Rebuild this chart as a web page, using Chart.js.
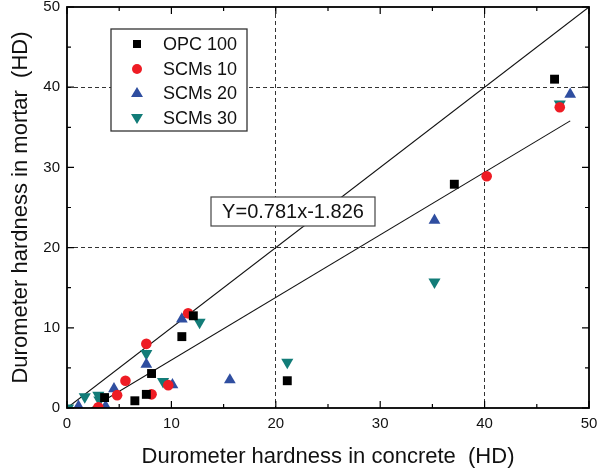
<!DOCTYPE html>
<html lang="en">
<head>
    <meta charset="UTF-8">
    <title>Durometer hardness: concrete vs mortar</title>
    <script src="https://cdn.jsdelivr.net/npm/chart.js"></script>
    <style>
        body { margin: 0; padding: 0; background: #fff; }
        canvas { display: block; }
    </style>
</head>
<body>
    <canvas id="hardChart" width="607" height="473"></canvas>

    <script>
        // data (x = concrete HD, y = mortar HD)
        const opcX  = [3.6, 6.5, 7.6, 8.1, 11.0, 12.1, 21.1, 37.1, 46.7];
        const opcY  = [1.3, 0.9, 1.7, 4.3, 8.9, 11.5, 3.4, 27.9, 41.0];
        const scm10X = [3.0, 4.8, 5.6, 7.6, 8.1, 9.7, 11.6, 40.2, 47.2];
        const scm10Y = [0.1, 1.6, 3.4, 8.0, 1.7, 2.85, 11.8, 28.9, 37.5];
        const scm20X = [1.1, 3.7, 4.5, 7.6, 10.1, 11.0, 15.6, 35.2, 48.2];
        const scm20Y = [0.2, 0.2, 2.4, 5.45, 2.9, 11.1, 3.5, 23.4, 39.1];
        const scm30X = [0.1, 1.7, 3.0, 3.1, 7.6, 9.2, 12.7, 21.1, 35.2, 47.2];
        const scm30Y = [0.0, 1.4, 1.6, 1.0, 6.8, 3.3, 10.7, 5.7, 15.7, 37.9];

        // 1:1 line and fitted line end points
        const oneToOneX = [0, 50];
        const oneToOneY = [0, 50];
        const fitX = [2.34, 48.2];
        const fitY = [0, 35.8];

        const axisTicks = [0, 10, 20, 30, 40, 50];
        const fitLabel = 'Y=0.781x-1.826';

        const pts = (xs, ys) => xs.map((x, i) => ({ x: x, y: ys[i] }));

        // frame, inward ticks, legend box and equation box
        const decorPlugin = {
            id: 'decor',
            afterDatasetsDraw(chart) {
                const ctx = chart.ctx;
                const a = chart.chartArea;
                const xs = chart.scales.x, ys = chart.scales.y;
                ctx.save();

                // inward ticks on all four sides
                ctx.strokeStyle = '#000';
                ctx.lineWidth = 1.2;
                for (let v = 0; v <= 50; v += 5) {
                    const len = v % 10 === 0 ? 7 : 4;
                    const px = xs.getPixelForValue(v);
                    const py = ys.getPixelForValue(v);
                    ctx.beginPath();
                    ctx.moveTo(px, a.bottom); ctx.lineTo(px, a.bottom - len);
                    ctx.moveTo(px, a.top); ctx.lineTo(px, a.top + len);
                    ctx.moveTo(a.left, py); ctx.lineTo(a.left + len, py);
                    ctx.moveTo(a.right, py); ctx.lineTo(a.right - len, py);
                    ctx.stroke();
                }

                // frame
                ctx.lineWidth = 1.8;
                ctx.strokeRect(a.left, a.top, a.right - a.left, a.bottom - a.top);

                // equation box
                ctx.font = '20px "Liberation Sans", Arial, sans-serif';
                ctx.fillStyle = '#fff';
                ctx.fillRect(211, 197, 164, 29);
                ctx.strokeStyle = '#444';
                ctx.lineWidth = 1.2;
                ctx.strokeRect(211, 197, 164, 29);
                ctx.fillStyle = '#111';
                ctx.textBaseline = 'middle';
                ctx.textAlign = 'center';
                ctx.fillText(fitLabel, 293, 212);

                // legend box
                ctx.fillStyle = '#fff';
                ctx.fillRect(111, 29, 136, 102);
                ctx.strokeStyle = '#333';
                ctx.lineWidth = 1.3;
                ctx.strokeRect(111, 29, 136, 102);
                ctx.textAlign = 'left';
                ctx.font = '18px "Liberation Sans", Arial, sans-serif';
                const rowY = [44, 69, 93, 118];
                chart.data.datasets.slice(0, 4).forEach((ds, i) => {
                    const cx = 137, cy = rowY[i];
                    ctx.fillStyle = ds.backgroundColor;
                    ctx.beginPath();
                    if (ds.pointStyle === 'rect') {
                        ctx.rect(cx - 4, cy - 4, 8, 8);
                    } else if (ds.pointStyle === 'circle') {
                        ctx.arc(cx, cy, 5, 0, Math.PI * 2);
                    } else if (ds.pointRotation === 180) {
                        ctx.moveTo(cx - 6, cy - 4); ctx.lineTo(cx + 6, cy - 4); ctx.lineTo(cx, cy + 6);
                    } else {
                        ctx.moveTo(cx - 6, cy + 4); ctx.lineTo(cx + 6, cy + 4); ctx.lineTo(cx, cy - 6);
                    }
                    ctx.closePath();
                    ctx.fill();
                    ctx.fillStyle = '#111';
                    ctx.fillText(ds.label, 163, cy + 1);
                });
                ctx.restore();
            }
        };

        const gridColor = c => (c.tick.value === 20 || c.tick.value === 40) ? '#333' : 'rgba(0,0,0,0)';

        new Chart(document.getElementById('hardChart').getContext('2d'), {
            type: 'scatter',
            data: {
                datasets: [
                    { label: 'OPC 100', data: pts(opcX, opcY), pointStyle: 'rect', pointRadius: 6.3,
                      backgroundColor: '#000', borderColor: '#000', borderWidth: 0 },
                    { label: 'SCMs 10', data: pts(scm10X, scm10Y), pointStyle: 'circle', pointRadius: 5.3,
                      backgroundColor: '#ee1c24', borderColor: '#ee1c24', borderWidth: 0 },
                    { label: 'SCMs 20', data: pts(scm20X, scm20Y), pointStyle: 'triangle', pointRadius: 6.8,
                      backgroundColor: '#2f4ea0', borderColor: '#2f4ea0', borderWidth: 0 },
                    { label: 'SCMs 30', data: pts(scm30X, scm30Y), pointStyle: 'triangle', pointRotation: 180, pointRadius: 7,
                      backgroundColor: '#127c78', borderColor: '#127c78', borderWidth: 0 },
                    { label: '1:1', type: 'line', data: pts(oneToOneX, oneToOneY), borderColor: '#111',
                      borderWidth: 1.1, pointRadius: 0, fill: false },
                    { label: 'fit', type: 'line', data: pts(fitX, fitY), borderColor: '#111',
                      borderWidth: 1.1, pointRadius: 0, fill: false }
                ]
            },
            options: {
                responsive: false,
                animation: false,
                layout: { padding: { top: 5, right: 18, left: 0, bottom: 0 } },
                plugins: {
                    legend: { display: false },
                    tooltip: { enabled: false }
                },
                scales: {
                    x: {
                        type: 'linear', min: 0, max: 50,
                        afterFit: s => { s.height = 65; s.paddingRight = 0; },
                        afterBuildTicks: s => { s.ticks = axisTicks.map(v => ({ value: v })); },
                        ticks: { color: '#111', padding: 7, font: { size: 15, family: '"Liberation Sans", Arial' } },
                        grid: { color: gridColor, lineWidth: 1, drawTicks: false },
                        border: { display: false, dash: [4, 3] },
                        title: { display: true, text: 'Durometer hardness in concrete  (HD)', color: '#111',
                                 font: { size: 22, family: '"Liberation Sans", Arial' }, padding: { top: 0, bottom: 3 } }
                    },
                    y: {
                        type: 'linear', min: 0, max: 50,
                        afterFit: s => { s.width = 67; s.paddingTop = 0; },
                        afterBuildTicks: s => { s.ticks = axisTicks.map(v => ({ value: v })); },
                        ticks: { color: '#111', padding: 7, font: { size: 15, family: '"Liberation Sans", Arial' } },
                        grid: { color: gridColor, lineWidth: 1, drawTicks: false },
                        border: { display: false, dash: [4, 3] },
                        title: { display: true, text: 'Durometer hardness in mortar  (HD)', color: '#111',
                                 font: { size: 22, family: '"Liberation Sans", Arial' }, padding: { top: 8, bottom: 0 } }
                    }
                }
            },
            plugins: [decorPlugin]
        });
    </script>
</body>
</html>
